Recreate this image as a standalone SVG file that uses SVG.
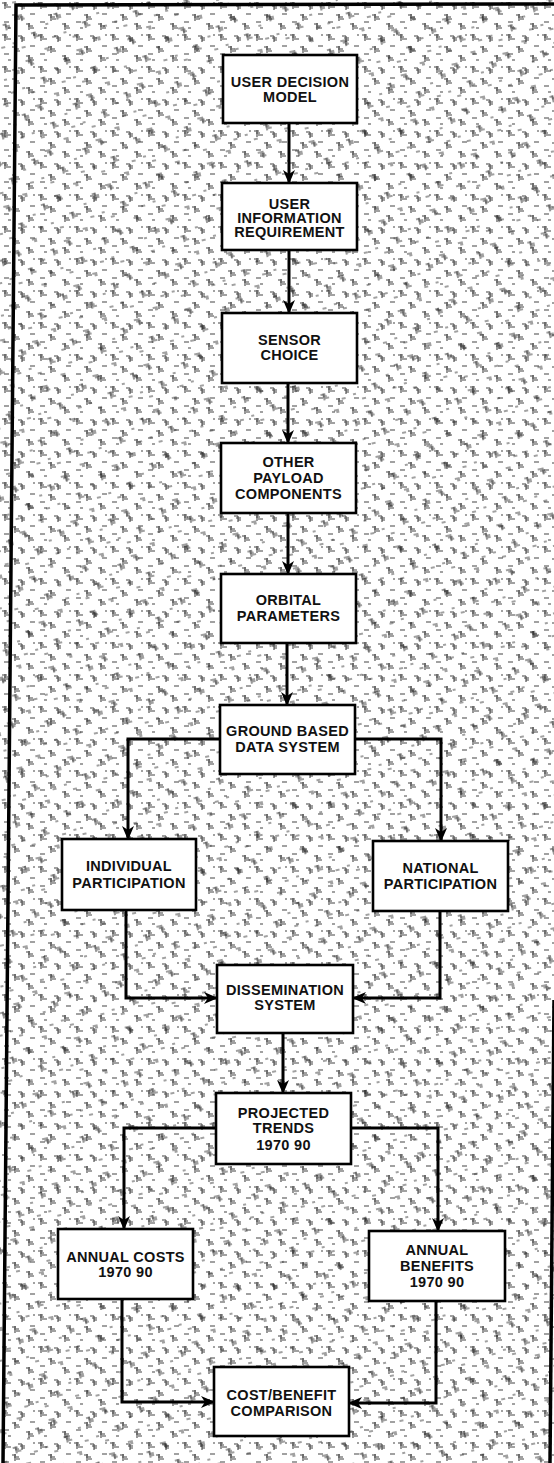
<svg xmlns="http://www.w3.org/2000/svg" width="554" height="1463" viewBox="0 0 554 1463">
<style>
.box{fill:#fff;stroke:#000;stroke-width:2.6}
.lbl{font-family:"Liberation Sans",Arial,sans-serif;font-weight:bold;font-size:14.5px;letter-spacing:0.3px;text-anchor:middle;fill:#111}
.con{fill:none;stroke:#000;stroke-width:3;stroke-linejoin:miter;marker-end:url(#arr)}
.frame{fill:none;stroke:#000;stroke-width:3.5}
.tx{stroke:#222;stroke-width:1.1;fill:none}
</style>
<defs>
<marker id="arr" markerUnits="userSpaceOnUse" markerWidth="14" markerHeight="12" viewBox="0 0 14 12" refX="13" refY="6" orient="auto">
<path d="M0,0 L14,6 L0,12 L4,6 z" fill="#000"/>
</marker>
<pattern id="tex" width="36" height="32" patternUnits="userSpaceOnUse">
<path class="tx" d="M2 3h5M4 5h4M6 7h5M5 2v7M18 4h4M20 6h5M22 8h3M22 4v6M30 14h5M12 15h4M14 17h5M16 19h4M15 14v7M4 22h5M26 24h4M28 26h5M30 28h4M29 23v7M8 28h3M33 3h2"/>
</pattern>
<pattern id="tex2" width="52" height="46" patternUnits="userSpaceOnUse" patternTransform="translate(11 7) rotate(-12)">
<path class="tx" d="M3 10h4M5 12h5M7 14h4M8 9v7M24 2h5M26 4h3M40 16h4M42 18h5M44 20h3M43 15v7M14 30h5M16 32h4M18 34h4M17 29v7M34 38h4M46 36h3M2 42h4M30 24h3"/>
</pattern>
</defs>
<rect x="0" y="0" width="554" height="1463" fill="#fff"/>
<rect x="0" y="0" width="554" height="1463" fill="url(#tex)" opacity="0.85"/>
<rect x="0" y="0" width="554" height="1463" fill="url(#tex2)" opacity="0.85"/>
<path class="frame" d="M3,1463 L16,5 L554,4"/>
<path class="frame" d="M554,1000 L550,1463"/>

<g id="connectors">
<path class="con" d="M289,123 V183"/>
<path class="con" d="M289,250 V313"/>
<path class="con" d="M288,383 V443"/>
<path class="con" d="M288,513 V574"/>
<path class="con" d="M287,643 V705"/>
<path class="con" d="M220,739 H128 V839"/>
<path class="con" d="M355,739 H441 V841"/>
<path class="con" d="M126,910 V998 H217"/>
<path class="con" d="M440,911 V998 H353"/>
<path class="con" d="M283,1033 V1093"/>
<path class="con" d="M216,1128 H124 V1229"/>
<path class="con" d="M351,1128 H438 V1231"/>
<path class="con" d="M122,1299 V1402 H214"/>
<path class="con" d="M436,1301 V1403 H349"/>
</g>

<g id="user-decision-model">
<rect class="box" x="223" y="55" width="134" height="68"/>
<text class="lbl" x="290" y="87">USER DECISION</text>
<text class="lbl" x="290" y="102">MODEL</text>
</g>
<g id="user-information-requirement">
<rect class="box" x="222" y="183" width="135" height="67"/>
<text class="lbl" x="289.5" y="209">USER</text>
<text class="lbl" x="289.5" y="223">INFORMATION</text>
<text class="lbl" x="289.5" y="237">REQUIREMENT</text>
</g>
<g id="sensor-choice">
<rect class="box" x="222" y="313" width="135" height="70"/>
<text class="lbl" x="289.5" y="345">SENSOR</text>
<text class="lbl" x="289.5" y="360">CHOICE</text>
</g>
<g id="other-payload-components">
<rect class="box" x="221" y="443" width="135" height="70"/>
<text class="lbl" x="288.5" y="467">OTHER</text>
<text class="lbl" x="288.5" y="483">PAYLOAD</text>
<text class="lbl" x="288.5" y="499">COMPONENTS</text>
</g>
<g id="orbital-parameters">
<rect class="box" x="221" y="574" width="135" height="69"/>
<text class="lbl" x="288.5" y="605">ORBITAL</text>
<text class="lbl" x="288.5" y="621">PARAMETERS</text>
</g>
<g id="ground-based-data-system">
<rect class="box" x="220" y="705" width="135" height="69"/>
<text class="lbl" x="287.5" y="736">GROUND BASED</text>
<text class="lbl" x="287.5" y="752">DATA SYSTEM</text>
</g>
<g id="individual-participation">
<rect class="box" x="62" y="839" width="134" height="71"/>
<text class="lbl" x="129" y="871">INDIVIDUAL</text>
<text class="lbl" x="129" y="888">PARTICIPATION</text>
</g>
<g id="national-participation">
<rect class="box" x="373" y="841" width="135" height="70"/>
<text class="lbl" x="440.5" y="873">NATIONAL</text>
<text class="lbl" x="440.5" y="889">PARTICIPATION</text>
</g>
<g id="dissemination-system">
<rect class="box" x="217" y="965" width="136" height="68"/>
<text class="lbl" x="285" y="995">DISSEMINATION</text>
<text class="lbl" x="285" y="1010">SYSTEM</text>
</g>
<g id="projected-trends">
<rect class="box" x="216" y="1093" width="135" height="71"/>
<text class="lbl" x="283.5" y="1118">PROJECTED</text>
<text class="lbl" x="283.5" y="1133">TRENDS</text>
<text class="lbl" x="283.5" y="1150">1970 90</text>
</g>
<g id="annual-costs">
<rect class="box" x="58" y="1229" width="135" height="70"/>
<text class="lbl" x="125.5" y="1262">ANNUAL COSTS</text>
<text class="lbl" x="125.5" y="1277">1970 90</text>
</g>
<g id="annual-benefits">
<rect class="box" x="369" y="1231" width="136" height="70"/>
<text class="lbl" x="437" y="1255">ANNUAL</text>
<text class="lbl" x="437" y="1271">BENEFITS</text>
<text class="lbl" x="437" y="1287">1970 90</text>
</g>
<g id="cost-benefit-comparison">
<rect class="box" x="214" y="1367" width="135" height="69"/>
<text class="lbl" x="281.5" y="1400">COST/BENEFIT</text>
<text class="lbl" x="281.5" y="1416">COMPARISON</text>
</g>
</svg>
